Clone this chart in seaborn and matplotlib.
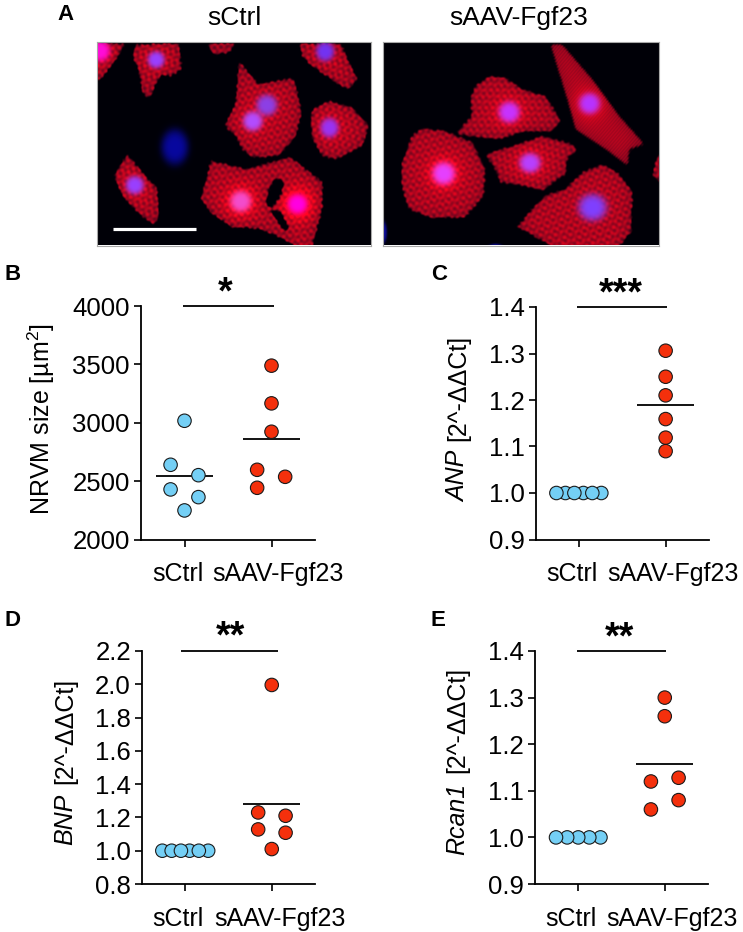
import numpy as np
import pandas as pd
import matplotlib
matplotlib.use("Agg")
import matplotlib.pyplot as plt
import seaborn as sns
from matplotlib.path import Path
from matplotlib.transforms import ScaledTranslation

W, H = 743, 932

groups = ["sCtrl", "sAAV-Fgf23"]
CTRL_COLOR = "#74CFF5"
FGF_COLOR = "#F4300C"

# values, x offsets are the sideways scatter of each dot
nrvm_ctrl = [3017, 2640, 2551, 2429, 2363, 2249]
nrvm_ctrl_dx = [0.0, -0.16, 0.16, -0.16, 0.16, 0.0]
nrvm_fgf = [3489, 3166, 2923, 2597, 2537, 2443]
nrvm_fgf_dx = [0.0, 0.0, 0.0, -0.165, 0.157, -0.165]

anp_ctrl = [1.0, 1.0, 1.0, 1.0, 1.0, 1.0]
anp_ctrl_dx = [-0.155, 0.052, 0.259, -0.259, -0.052, 0.155]
anp_fgf = [1.306, 1.25, 1.21, 1.159, 1.119, 1.09]
anp_fgf_dx = [0.0, 0.0, 0.0, 0.0, 0.0, 0.0]

bnp_ctrl = [1.0, 1.0, 1.0, 1.0, 1.0, 1.0]
bnp_ctrl_dx = [0.265, 0.05, -0.265, 0.157, -0.157, -0.05]
bnp_fgf = [1.996, 1.23, 1.21, 1.128, 1.108, 1.01]
bnp_fgf_dx = [0.0, -0.157, 0.16, -0.157, 0.16, 0.0]

rcan_ctrl = [1.0, 1.0, 1.0, 1.0, 1.0]
rcan_ctrl_dx = [0.257, 0.128, 0.0, -0.128, -0.257]
rcan_fgf = [1.30, 1.26, 1.128, 1.12, 1.08, 1.06]
rcan_fgf_dx = [0.0, 0.0, 0.16, -0.16, 0.16, -0.16]

nrvm_ticks = [2000, 2500, 3000, 3500, 4000]
anp_ticks = [0.9, 1.0, 1.1, 1.2, 1.3, 1.4]
bnp_ticks = [0.8, 1.0, 1.2, 1.4, 1.6, 1.8, 2.0, 2.2]
rcan_ticks = [0.9, 1.0, 1.1, 1.2, 1.3, 1.4]

# micrograph outlines, in 3x crop pixels of each image
left_cells = [
    ([(0, 0), (80, 0), (50, 50), (10, 105), (0, 110)], 40),
    ([(110, 5), (240, 0), (248, 80), (215, 100), (185, 95), (150, 170), (132, 150), (118, 80), (100, 40)], 70),
    ([(325, 0), (412, 0), (390, 30), (340, 35)], 40),
    ([(600, 0), (725, 0), (775, 110), (745, 140), (690, 105), (640, 70), (610, 40)], 60),
    ([(420, 55), (445, 85), (480, 125), (585, 105), (608, 210), (590, 280), (540, 340), (460, 345),
      (430, 320), (410, 280), (378, 250), (410, 180)], 30),
    ([(640, 200), (690, 175), (760, 195), (810, 250), (790, 310), (710, 350), (670, 340), (640, 290), (635, 240)], 120),
    ([(85, 335), (130, 390), (175, 440), (180, 520), (165, 550), (115, 510), (70, 460), (45, 400)], 60),
    ([(335, 355), (440, 380), (575, 345), (670, 420), (670, 500), (640, 612), (590, 612), (530, 580),
      (480, 560), (400, 555), (340, 515), (305, 470), (325, 400)], 35),
]
left_holes = [
    [(530, 405), (555, 420), (545, 460), (520, 495), (500, 490), (510, 440)],
    [(510, 500), (545, 510), (570, 560), (560, 570), (530, 530)],
]
# x, y, rx, ry, colour, glow
left_nuclei = [
    (8, 28, 28, 30, (1.0, 0.05, 0.85), 0.2),
    (176, 55, 24, 24, (0.6, 0.25, 1.0), 0.1),
    (683, 30, 26, 28, (0.45, 0.2, 0.95), 0.1),
    (508, 192, 30, 30, (0.55, 0.25, 0.9), 0.1),
    (466, 240, 28, 28, (0.7, 0.3, 1.0), 0.15),
    (696, 260, 26, 28, (0.6, 0.2, 0.95), 0.15),
    (232, 318, 38, 50, (0.03, 0.03, 0.62), 0.0),
    (112, 433, 26, 26, (0.6, 0.25, 1.0), 0.15),
    (430, 482, 30, 30, (0.95, 0.3, 0.8), 0.45),
    (600, 490, 28, 28, (1.0, 0.0, 0.88), 0.6),
]

right_cells = [
    ([(310, 100), (360, 105), (410, 140), (480, 160), (525, 235), (500, 265), (420, 265), (340, 290),
      (210, 275), (260, 220), (255, 170), (270, 130)], 45),
    ([(495, 5), (530, 5), (620, 110), (700, 220), (775, 305), (730, 320), (725, 370), (660, 320),
      (570, 260), (545, 170)], 40),
    ([(110, 258), (180, 265), (260, 300), (300, 380), (295, 460), (240, 525), (130, 525), (70, 500),
      (50, 430), (48, 370), (80, 280)], 30),
    ([(300, 335), (400, 305), (470, 280), (560, 305), (575, 325), (545, 345), (540, 395), (490, 430),
      (470, 445), (410, 430), (345, 420), (330, 380)], 60),
    ([(650, 365), (700, 395), (740, 450), (735, 570), (700, 612), (500, 612), (395, 555), (440, 500),
      (480, 460), (540, 440), (590, 390)], 20),
    ([(825, 330), (810, 350), (800, 400), (825, 420)], 20),
]
right_holes = []
right_striped = 1
right_nuclei = [
    (376, 213, 30, 30, (0.78, 0.2, 1.0), 0.3),
    (616, 187, 30, 30, (0.72, 0.2, 1.0), 0.3),
    (180, 398, 32, 32, (0.9, 0.25, 1.0), 0.5),
    (438, 366, 30, 28, (0.72, 0.25, 1.0), 0.25),
    (625, 500, 40, 38, (0.5, 0.25, 1.0), 0.1),
    (0, 575, 10, 30, (0.05, 0.05, 0.6), 0.0),
    (335, 620, 20, 10, (0.05, 0.05, 0.6), 0.0),
]


def smooth(a, k, passes=2):
    kernel = np.ones(k) / k
    pad = 2 * k
    a = np.pad(a, pad, mode="edge")
    for _ in range(passes):
        a = np.apply_along_axis(lambda r: np.convolve(r, kernel, mode="same"), 0, a)
        a = np.apply_along_axis(lambda r: np.convolve(r, kernel, mode="same"), 1, a)
    return a[pad:-pad, pad:-pad]


def speckle(xx, yy, angle):
    a = np.deg2rad(angle)
    u = xx * np.cos(a) + yy * np.sin(a)
    v = -xx * np.sin(a) + yy * np.cos(a)
    s = (np.sin(2 * np.pi * u / 4.7) + np.sin(2 * np.pi * v / 5.3)
         + np.sin(2 * np.pi * (u + v) / 8.3) + np.sin(2 * np.pi * (u - 2 * v) / 11.9))
    return np.clip(0.5 + s / 5, 0, 1)


def stripes(xx, yy, angle):
    a = np.deg2rad(angle)
    u = xx * np.cos(a) + yy * np.sin(a)
    return np.sin(2 * np.pi * u / 5.0) ** 2


def micrograph(cells, holes, nuclei, striped=None, w=275, h=205):
    yy, xx = np.mgrid[0:h, 0:w]
    pts = np.column_stack([xx.ravel() * 3, yy.ravel() * 3])
    red = np.zeros((h, w))
    cover = np.zeros((h, w))
    for i, (poly, angle) in enumerate(cells):
        mask = Path(poly).contains_points(pts).reshape(h, w).astype(float)
        for hole in holes:
            mask[Path(hole).contains_points(pts).reshape(h, w)] = 0
        soft = smooth(mask, 4)
        core = smooth(mask, 15)
        if i == striped:
            tex = stripes(xx, yy, angle)
        else:
            tex = speckle(xx, yy, angle)
        # the edge of each cell frays a little with the texture
        edge = np.clip((soft - 0.55 + 0.35 * tex) * 3.0, 0, 1)
        red = np.maximum(red, edge * (0.3 + 0.2 * core + 0.36 * tex))
        cover = np.maximum(cover, edge)
    red = smooth(red, 2, passes=1)
    cover = smooth(cover, 2, passes=1)
    for x, y, rx, ry, col, glow in nuclei:
        d2 = ((xx - x / 3) ** 2 + (yy - y / 3) ** 2) / 15.0 ** 2
        red = red + cover * glow * np.exp(-d2)
    rgb = np.dstack([red, cover * 0.02, cover * 0.09 + 0.03])
    for x, y, rx, ry, col, glow in nuclei:
        d = ((xx - x / 3) / (rx / 2.8)) ** 2 + ((yy - y / 3) / (ry / 2.8)) ** 2
        n = np.exp(-d ** 2)[..., None]
        rgb = rgb * (1 - n) + np.array(col) * n
    return np.clip(rgb, 0, 1)


def px_axes(fig, x0, y0, x1, y1):
    return fig.add_axes([x0 / W, 1 - y1 / H, (x1 - x0) / W, (y1 - y0) / H])


def draw_image(fig, box, img):
    ax = px_axes(fig, *box)
    ax.imshow(img, interpolation="bilinear", aspect="auto")
    ax.set_xticks([])
    ax.set_yticks([])
    for s in ax.spines.values():
        s.set_color("#a8a8a8")
        s.set_linewidth(0.8)
    return ax


def draw_ylabel(fig, x, y, italic, rest):
    # italic gene name followed by upright units, running up the page from its baseline
    kw = dict(rotation=90, rotation_mode="anchor", ha="left", va="baseline", fontsize=18)
    y_px = H - y
    if italic:
        t = fig.text(x / W, y_px / H, italic, style="italic", **kw)
        y_px = t.get_window_extent(fig.canvas.get_renderer()).y1 + 9.5
    fig.text(x / W, y_px / H, rest, **kw)


def draw_panel(fig, box, ctrl, ctrl_dx, fgf, fgf_dx, ticks, bar, stars, star_x, star_y, fgf_shift):
    ax = px_axes(fig, *box)
    df = pd.DataFrame({
        "x": [d for d in ctrl_dx] + [1 + d for d in fgf_dx],
        "y": ctrl + fgf,
        "group": [groups[0]] * len(ctrl) + [groups[1]] * len(fgf),
    })
    # mean lines sit under the dots
    for i, vals in enumerate([ctrl, fgf]):
        ax.hlines(np.mean(vals), i - 0.33, i + 0.33, color="black", lw=1.3, zorder=1)
    sns.scatterplot(data=df, x="x", y="y", hue="group", palette=[CTRL_COLOR, FGF_COLOR],
                    s=94, edgecolor="#1a1a1a", linewidth=0.8, legend=False, ax=ax, zorder=3)
    ax.set_xlim(-0.5, 1.5)
    ax.set_ylim(ticks[0], ticks[-1])
    ax.set_xticks([0, 1])
    ax.set_xticklabels(groups)
    ax.set_yticks(ticks)
    ax.set_yticklabels([f"{t:g}" if t >= 100 else f"{t:.1f}" for t in ticks])
    ax.set_xlabel("")
    ax.set_ylabel("")
    ax.tick_params(axis="y", left=True, length=4.8, width=1.2, labelsize=18.5, pad=3.2)
    ax.tick_params(axis="x", bottom=True, length=4.8, width=1.2, labelsize=18, pad=11.5)
    sns.despine(ax=ax)
    for s in ("left", "bottom"):
        ax.spines[s].set_linewidth(1.3)
    # category labels are pushed apart to keep clear of each other
    for lab, shift in zip(ax.get_xticklabels(), [-7, fgf_shift]):
        lab.set_transform(lab.get_transform() + ScaledTranslation(shift / 100, 0, fig.dpi_scale_trans))
    ax.plot(bar, [ticks[-1], ticks[-1]], color="black", lw=1.3, clip_on=False, solid_capstyle="butt")
    fig.text(star_x / W, 1 - star_y / H, stars, ha="center", va="center", fontsize=27, fontweight="bold")
    return ax


sns.set_theme(style="white", rc={"text.color": "black", "axes.labelcolor": "black", "axes.edgecolor": "black",
                                 "xtick.color": "black", "ytick.color": "black"})
plt.rcParams["font.family"] = ["Liberation Sans", "DejaVu Sans"]
plt.rcParams["mathtext.fontset"] = "custom"
plt.rcParams["mathtext.rm"] = "Liberation Sans"
plt.rcParams["mathtext.default"] = "regular"

fig = plt.figure(figsize=(W / 100, H / 100), dpi=100, facecolor="white")

ax_left = draw_image(fig, (97, 41.5, 371, 245.5), micrograph(left_cells, left_holes, left_nuclei))
ax_left.hlines(187.5, 15.5, 98.5, color="white", lw=2.3)
draw_image(fig, (382.5, 41.5, 658.5, 245.5), micrograph(right_cells, right_holes, right_nuclei, right_striped))

fig.text(234 / W, 1 - 18 / H, "sCtrl", ha="center", va="center", fontsize=19)
fig.text(519 / W, 1 - 18 / H, "sAAV-Fgf23", ha="center", va="center", fontsize=19)

draw_panel(fig, (141, 306, 315, 539.5), nrvm_ctrl, nrvm_ctrl_dx, nrvm_fgf, nrvm_fgf_dx, nrvm_ticks,
           (-0.017, 1.03), "*", 225, 293, 6.5)
draw_panel(fig, (535.5, 307, 709, 539.5), anp_ctrl, anp_ctrl_dx, anp_fgf, anp_fgf_dx, anp_ticks,
           (-0.02, 1.02), "***", 621, 294, 7)
draw_panel(fig, (142, 651, 315, 884), bnp_ctrl, bnp_ctrl_dx, bnp_fgf, bnp_fgf_dx, bnp_ticks,
           (-0.05, 1.075), "**", 230, 637, 8.5)
draw_panel(fig, (535, 651, 708, 884), rcan_ctrl, rcan_ctrl_dx, rcan_fgf, rcan_fgf_dx, rcan_ticks,
           (-0.01, 1.02), "**", 619, 638, 7.5)

draw_ylabel(fig, 49.5, 515, "", "NRVM size [µm$^2$]")
draw_ylabel(fig, 465, 502, "ANP", "[2^-ΔΔCt]")
draw_ylabel(fig, 72, 845, "BNP", "[2^-ΔΔCt]")
draw_ylabel(fig, 464, 855, "Rcan1", "[2^-ΔΔCt]")

for letter, x, y in [("A", 57, 15), ("B", 4, 274), ("C", 431, 274), ("D", 4, 620), ("E", 430, 620)]:
    fig.text(x / W, 1 - y / H, letter, ha="left", va="center", fontsize=16, fontweight="bold")

fig.savefig("out.png", dpi=100)
